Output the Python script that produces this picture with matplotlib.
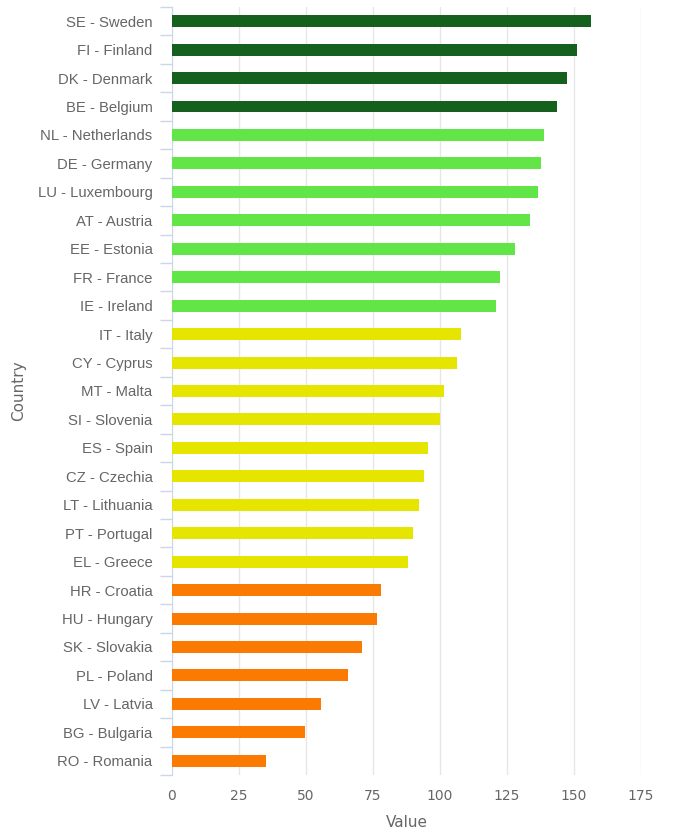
import numpy as np
import matplotlib
matplotlib.use("Agg")
from matplotlib import pyplot as plt
from matplotlib.ticker import FixedLocator

countries = ["SE - Sweden", "FI - Finland", "DK - Denmark", "BE - Belgium",
             "NL - Netherlands", "DE - Germany", "LU - Luxembourg", "AT - Austria",
             "EE - Estonia", "FR - France", "IE - Ireland", "IT - Italy",
             "CY - Cyprus", "MT - Malta", "SI - Slovenia", "ES - Spain",
             "CZ - Czechia", "LT - Lithuania", "PT - Portugal", "EL - Greece",
             "HR - Croatia", "HU - Hungary", "SK - Slovakia", "PL - Poland",
             "LV - Latvia", "BG - Bulgaria", "RO - Romania"]
values = [156.4, 151.3, 147.3, 143.6,
          138.7, 137.5, 136.5, 133.5, 127.9, 122.5, 120.8,
          107.7, 106.3, 101.6, 100.1, 95.6, 94.1, 92.1, 90.0, 88.0,
          78.0, 76.4, 70.9, 65.8, 55.7, 49.6, 35.0]
groups = [0] * 4 + [1] * 7 + [2] * 9 + [3] * 7
group_colors = ["#16601e", "#62e647", "#e5e500", "#fb7b02"]
x_ticks = [0, 25, 50, 75, 100, 125, 150, 175]

fig = plt.figure(figsize=(6.96, 8.39), dpi=100)
ax = fig.add_axes([0.2471, 0.0763, 0.921 - 0.2471, 0.9917 - 0.0763])

y = np.arange(len(countries))
colors = [group_colors[g] for g in groups]
ax.barh(y, values, height=0.42, color=colors, zorder=3)

ax.set_xlim(0, 175)
ax.set_ylim(len(countries) - 0.5, -0.5)

ax.set_xticks(x_ticks)
ax.set_xticklabels([str(t) for t in x_ticks], fontsize=10, color="#666666",
                   family="DejaVu Sans")
ax.tick_params(axis="x", length=0, pad=10)
ax.grid(axis="x", color="#e6e6e6", lw=1, zorder=0)

ax.set_yticks(y)
ax.set_yticklabels(countries, fontsize=10.7, color="#666666", family="Liberation Sans")
ax.tick_params(axis="y", which="major", length=0, pad=14)
ax.yaxis.set_minor_locator(FixedLocator(np.arange(-0.5, len(countries), 1)))
ax.tick_params(axis="y", which="minor", length=9, color="#ccd6eb", width=1)

for side in ["top", "right", "bottom"]:
    ax.spines[side].set_visible(False)
ax.spines["left"].set_color("#ccd6eb")

ax.set_xlabel("Value", fontsize=11, color="#666666", family="DejaVu Sans", labelpad=9)
ax.set_ylabel("Country", fontsize=11, color="#666666", family="DejaVu Sans", labelpad=8)

fig.savefig("out.png", dpi=100)
